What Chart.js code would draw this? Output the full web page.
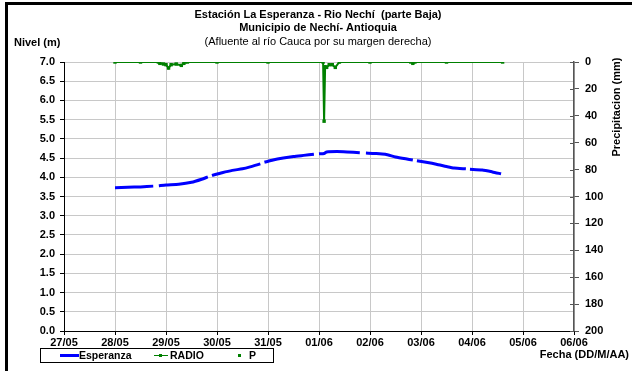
<!DOCTYPE html>
<html><head><meta charset="utf-8">
<script src="https://cdn.jsdelivr.net/npm/chart.js@4/dist/chart.umd.min.js"></script>
<style>
html,body{margin:0;padding:0;background:#fff;}
#wrap{position:relative;width:632px;height:371px;overflow:hidden;font-family:"Liberation Sans",Arial,sans-serif;}
#bl{position:absolute;left:5px;top:2px;width:3px;height:371px;background:#000;}
#bt{position:absolute;left:5px;top:2px;width:627px;height:3px;background:#000;}
#legend{position:absolute;left:40px;top:348px;width:232px;height:13px;border:1px solid #000;font:bold 10.5px "Liberation Sans",Arial,sans-serif;color:#000;}
#legend span{position:absolute;top:0px;line-height:13px;}
.sw{position:absolute;}
canvas{position:absolute;left:0;top:0;}
</style></head>
<body><div id="wrap">
<canvas id="c" width="632" height="371"></canvas>
<div id="bl"></div><div id="bt"></div>
<div id="legend">
  <div class="sw" style="left:19px;top:5px;width:19px;height:3px;background:#0000ff"></div><span style="left:38px">Esperanza</span>
  <div class="sw" style="left:113px;top:6px;width:14px;height:1px;background:#008000"></div><div class="sw" style="left:118px;top:5px;width:3px;height:3px;background:#008000"></div><span style="left:129px">RADIO</span>
  <div class="sw" style="left:197px;top:5px;width:3px;height:3px;background:#008000"></div><span style="left:208px">P</span>
</div>
</div>
<script>
// ---- data ----
const dayLabels = ['27/05','28/05','29/05','30/05','31/05','01/06','02/06','03/06','04/06','05/06','06/06'];
const titleLines = ['Estación La Esperanza - Rio Nechí  (parte Baja)','Municipio de Nechí- Antioquia'];
const subtitleLine = '(Afluente al río Cauca por su margen derecha)';
const leftAxisTitle = 'Nivel (m)';
const rightAxisTitle = 'Precipitacion (mm)';
const xAxisTitle = 'Fecha (DD/M/AA)';

// Esperanza level (m); null = gap in the record. x in days after 27/05
const esperanzaDays  = [1.00,1.25,1.50,1.75,1.80,1.86,2.00,2.25,2.50,2.70,2.82,2.86,2.90,3.10,3.30,3.50,3.65,3.85,3.89,3.93,4.10,4.30,4.50,4.70,4.90,4.95,5.00,5.10,5.15,5.35,5.55,5.80,5.86,5.92,6.10,6.30,6.50,6.70,6.84,6.88,6.92,7.10,7.30,7.50,7.65,7.88,7.92,7.96,8.20,8.40,8.57];
const esperanzaLevel = [3.73,3.74,3.75,3.77,null,3.78,3.80,3.82,3.87,3.95,4.01,null,4.05,4.12,4.18,4.22,4.27,4.35,null,4.39,4.45,4.50,4.54,4.57,4.60,null,4.61,4.62,4.66,4.67,4.66,4.64,null,4.63,4.62,4.60,4.53,4.48,4.45,null,4.43,4.39,4.34,4.28,4.24,4.22,null,4.21,4.19,4.14,4.09];

// RADIO precipitation (mm)
const radioDays = [1.00,1.50,1.85,1.88,1.95,2.00,2.05,2.10,2.20,2.30,2.35,2.42,3.00,4.00,5.08,5.10,5.12,5.15,5.20,5.26,5.32,5.40,6.00,6.80,6.84,6.88,7.50,8.60];
const radioMm   = [0,   0,   0,   1,   1.5, 2,   4.5, 2,   1.5, 2.5, 1,   0,   0,   0,   0,   44,  3.5, 4,   2,   2,   4,   0,   0,   0,   1,   0,   0,   0];

const pDays = [];
const pMm = [];

const levelTicksMax = 7, levelStep = 0.5;
const precipMax = 200, precipStep = 20;

// ---- build ----
const toXY = (xs, ys) => xs.map((x,i)=>({x:x, y:ys[i]}));
const FONT = '"Liberation Sans", Arial, sans-serif';

const textPlugin = {
  id:'texts',
  afterDraw(chart){
    const ctx = chart.ctx;
    const y1 = chart.scales.y1, a = chart.chartArea;
    ctx.save();
    ctx.strokeStyle = '#555'; ctx.lineWidth = 1;
    y1.ticks.forEach(t => {
      const py = Math.round(y1.getPixelForValue(t.value)) + 0.5;
      ctx.beginPath(); ctx.moveTo(a.right - 4, py); ctx.lineTo(a.right, py); ctx.stroke();
    });
    ctx.fillStyle = '#000';
    ctx.textAlign = 'center'; ctx.textBaseline = 'middle';
    const cx = 318;
    ctx.font = 'bold 11px ' + FONT;
    ctx.fillText(titleLines[0], cx, 15);
    ctx.fillText(titleLines[1], cx, 28);
    ctx.font = '11px ' + FONT;
    ctx.fillText(subtitleLine, cx, 42);
    ctx.font = 'bold 11px ' + FONT;
    ctx.textAlign = 'left';
    ctx.fillText(leftAxisTitle, 14, 43);
    ctx.textAlign = 'right';
    ctx.fillText(xAxisTitle, 629, 355);
    ctx.translate(617, 107);
    ctx.rotate(-Math.PI/2);
    ctx.textAlign = 'center';
    ctx.font = 'bold 11px ' + FONT;
    ctx.fillText(rightAxisTitle, 0, 0);
    ctx.restore();
  }
};

new Chart(document.getElementById('c'), {
  type:'line',
  data:{
    datasets:[
      {label:'Esperanza', data:toXY(esperanzaDays, esperanzaLevel), yAxisID:'y', borderColor:'#0000ff', borderWidth:3, pointRadius:0, spanGaps:false, tension:0.2},
      {label:'RADIO', data:toXY(radioDays, radioMm), yAxisID:'y1', borderColor:'#008000', backgroundColor:'#008000', borderWidth:2, pointRadius:1, pointStyle:'rect', tension:0},
      {label:'P', data:toXY(pDays, pMm), yAxisID:'y1', showLine:false, borderColor:'#008000', backgroundColor:'#008000', pointRadius:1.5, pointStyle:'rect'}
    ]
  },
  options:{
    responsive:false, animation:false, devicePixelRatio:1,
    layout:{padding:{top:62, left:0, right:0, bottom:25}},
    plugins:{legend:{display:false}, tooltip:{enabled:false}, title:{display:false}},
    scales:{
      x:{type:'linear', min:0, max:dayLabels.length-1,
         afterFit(s){ s.height = 15; },
         ticks:{stepSize:1, autoSkip:false, maxRotation:0, padding:1, color:'#000', font:{family:FONT, size:11, weight:'bold'},
                callback:(v)=>dayLabels[v] ?? ''},
         grid:{color:'#c8c8c8', lineWidth:1, tickLength:4, tickColor:'#000'},
         border:{color:'#000', width:1}},
      y:{position:'left', min:0, max:levelTicksMax,
         afterFit(s){ s.width = 64; },
         ticks:{stepSize:levelStep, color:'#000', padding:5, font:{family:FONT, size:11, weight:'bold'}, callback:(v)=>v.toFixed(1)},
         grid:{color:'#c8c8c8', lineWidth:1, tickLength:4, tickColor:'#000'},
         border:{color:'#000', width:1}},
      y1:{position:'right', min:0, max:precipMax, reverse:true,
         afterFit(s){ s.width = 58; },
         ticks:{stepSize:precipStep, color:'#000', padding:6, font:{family:FONT, size:11, weight:'bold'}},
         grid:{drawOnChartArea:false, tickLength:5, tickColor:'#555'},
         border:{color:'#555', width:1.5}}
    }
  },
  plugins:[textPlugin]
});
</script>
</body></html>
